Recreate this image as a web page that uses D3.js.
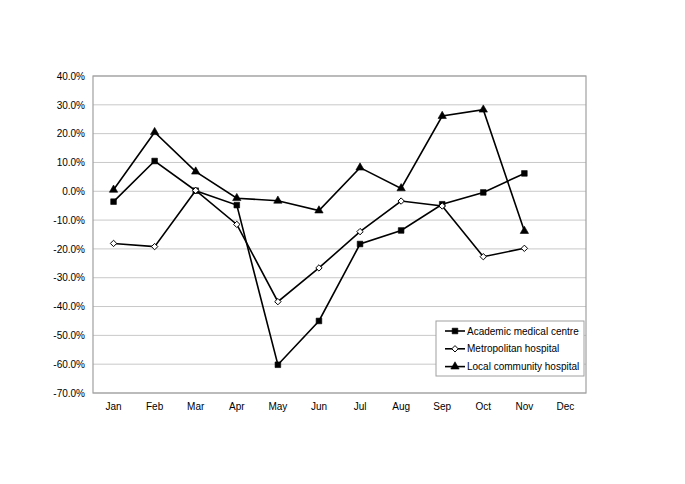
<!DOCTYPE html>
<html><head><meta charset="utf-8">
<script src="https://cdn.jsdelivr.net/npm/d3@7/dist/d3.min.js"></script>
<style>body{margin:0;background:#fff}svg{display:block}text{font-family:"Liberation Sans",Arial,sans-serif}</style>
</head><body>
<svg id="c" width="685" height="484"></svg>
<script>
const months = ["Jan","Feb","Mar","Apr","May","Jun","Jul","Aug","Sep","Oct","Nov","Dec"];
const yTicks = [40,30,20,10,0,-10,-20,-30,-40,-50,-60,-70];
const academic = [-3.6,10.5,0.2,-4.8,-60.2,-45.0,-18.3,-13.6,-4.5,-0.4,6.2];
const metropolitan = [-18.1,-19.2,0.3,-11.5,-38.3,-26.6,-14.0,-3.4,-5.1,-22.7,-19.8];
const local = [0.5,20.5,6.8,-2.4,-3.3,-6.7,8.2,1.0,26.1,28.3,-13.8];
const seriesNames = ["Academic medical centre","Metropolitan hospital","Local community hospital"];

const svg = d3.select("#c");
const L=93,R=586,T=76,B=393;
const x = d3.scaleBand().domain(months).range([L,R]);
const y = d3.scaleLinear().domain([-70,40]).range([B,T]);

svg.append("g").selectAll("line").data(yTicks).join("line")
  .attr("x1",L).attr("x2",R).attr("y1",d=>y(d)).attr("y2",d=>y(d))
  .attr("stroke","#c8c8c8").attr("stroke-width",1);
svg.append("rect").attr("x",L).attr("y",T).attr("width",R-L).attr("height",B-T)
  .attr("fill","none").attr("stroke","#a0a0a0").attr("stroke-width",1.2);

const yAxis = d3.axisLeft(y).tickValues(yTicks).tickSize(0).tickPadding(8)
  .tickFormat(d=>d.toFixed(1)+"%");
const gy = svg.append("g").attr("transform",`translate(${L},0)`).call(yAxis);
gy.select(".domain").remove();
gy.selectAll("text").attr("font-size",10).attr("fill","#000").attr("font-family","Liberation Sans, Arial, sans-serif");

const xAxis = d3.axisBottom(x).tickSize(0).tickPadding(10);
const gx = svg.append("g").attr("transform",`translate(0,${B})`).call(xAxis);
gx.select(".domain").remove();
gx.selectAll("text").attr("font-size",10).attr("fill","#000").attr("font-family","Liberation Sans, Arial, sans-serif");

const cx = i => x(months[i]) + x.bandwidth()/2;
const line = d3.line().x((d,i)=>cx(i)).y(d=>y(d));
const data = [academic, metropolitan, local];
const symbols = [d3.symbolSquare, d3.symbolDiamond2, d3.symbolTriangle];
const symSize = [32, 26, 30];
const fills = ["#000","#fff","#000"];

data.forEach((s,k)=>{
  svg.append("path").datum(s).attr("d",line).attr("fill","none")
    .attr("stroke","#000").attr("stroke-width",1.6);
});
data.forEach((s,k)=>{
  svg.append("g").selectAll("path").data(s).join("path")
    .attr("transform",(d,i)=>`translate(${cx(i)},${y(d)})`)
    .attr("d",d3.symbol().type(symbols[k]).size(symSize[k]))
    .attr("fill",fills[k]).attr("stroke","#000").attr("stroke-width",k===1?1:0.6);
});

// legend
const lg = svg.append("g");
lg.append("rect").attr("x",436).attr("y",321).attr("width",148).attr("height",55)
  .attr("fill","#fff").attr("stroke","#a0a0a0").attr("stroke-width",1);
seriesNames.forEach((n,k)=>{
  const yy = 331 + k*17.8;
  lg.append("line").attr("x1",445).attr("x2",465).attr("y1",yy).attr("y2",yy)
    .attr("stroke","#000").attr("stroke-width",1.6);
  lg.append("path").attr("transform",`translate(455,${yy})`)
    .attr("d",d3.symbol().type(symbols[k]).size(symSize[k]))
    .attr("fill",fills[k]).attr("stroke","#000").attr("stroke-width",k===1?1:0.6);
  lg.append("text").attr("x",467).attr("y",yy).attr("dy","0.35em")
    .attr("font-size",10).text(n);
});
</script>
</body></html>
